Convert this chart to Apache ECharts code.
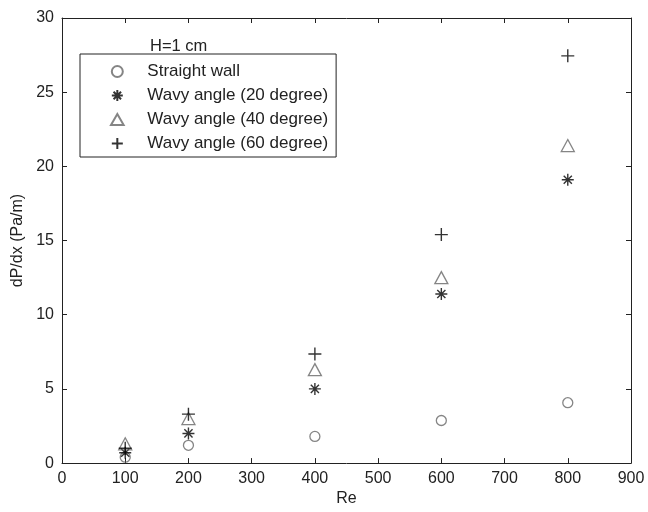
<!DOCTYPE html>
<html>
<head>
<meta charset="utf-8">
<script src="https://cdn.jsdelivr.net/npm/echarts@6/dist/echarts.min.js"></script>
<style>html,body{margin:0;padding:0;background:#fff;}#c{width:648px;height:512px;}</style>
</head>
<body>
<div id="c"></div>
<script>
var reValues = [100, 200, 400, 600, 800];
var straightWall = [0.4, 1.2, 1.8, 2.87, 4.07];
var wavy20 = [0.7, 2.0, 5.0, 11.4, 19.1];
var wavy40 = [1.3, 3.0, 6.3, 12.5, 21.4];
var wavy60 = [1.0, 3.3, 7.35, 15.4, 27.45];
var seriesNames = ['Straight wall', 'Wavy angle (20 degree)', 'Wavy angle (40 degree)', 'Wavy angle (60 degree)'];
var xTicks = [0,100,200,300,400,500,600,700,800,900];
var yTicks = [0,5,10,15,20,25,30];

function pairs(ys){ return reValues.map(function(x,i){ return [x, ys[i]]; }); }

var FONT = 'Liberation Sans, Arial, sans-serif';
var txt = '#222';
var starPath = 'path://M0,5L10,5M5,0L5,10M1.6,1.6L8.4,8.4M1.6,8.4L8.4,1.6';
var plusPath = 'path://M0,5L10,5M5,0L5,10';
var triPath = 'path://M5,0L10,8.7L0,8.7Z';

var chart = echarts.init(document.getElementById('c'), null, {renderer:'canvas'});
function axisBase(){
  return {
    axisLine:{show:true, onZero:false, lineStyle:{color:'#222', width:1}},
    axisTick:{show:true, inside:true, length:5, lineStyle:{color:'#222'}},
    splitLine:{show:false}
  };
}
var xb = axisBase(), xt = axisBase(), yl = axisBase(), yr = axisBase();
var option = {
  animation:false,
  backgroundColor:'#fff',
  grid:{left:62, right:17, top:18, bottom:45, containLabel:false},
  title:{text:'H=1 cm', left:145, top:33, textStyle:{fontFamily:FONT, fontSize:16.5, fontWeight:'normal', color:txt}},
  legend:{
    orient:'vertical', left:80, top:54,
    padding:[9,8,5,30],
    itemWidth:50, itemHeight:11, itemGap:7,
    borderColor:'#222', borderWidth:1, borderRadius:0,
    backgroundColor:'#fff',
    textStyle:{fontFamily:FONT, fontSize:17, color:txt},
    data:seriesNames
  },
  xAxis:[
    Object.assign(xb, {type:'value', position:'bottom', min:0, max:900, interval:100,
      name:'Re', nameLocation:'middle', nameGap:27,
      nameTextStyle:{fontFamily:FONT, fontSize:16, color:txt},
      axisLabel:{fontFamily:FONT, fontSize:16, color:txt, margin:7}}),
    Object.assign(xt, {type:'value', position:'top', min:0, max:900, interval:100, axisLabel:{show:false}})
  ],
  yAxis:[
    Object.assign(yl, {type:'value', position:'left', min:0, max:30, interval:5,
      name:'dP/dx (Pa/m)', nameLocation:'middle', nameGap:36,
      nameTextStyle:{fontFamily:FONT, fontSize:16, color:txt},
      axisLabel:{fontFamily:FONT, fontSize:16, color:txt, margin:8}}),
    Object.assign(yr, {type:'value', position:'right', min:0, max:30, interval:5, axisLabel:{show:false}})
  ],
  series:[
    {name:seriesNames[0], type:'scatter', data:pairs(straightWall), symbol:'circle', symbolSize:10,
     itemStyle:{color:'rgba(0,0,0,0)', borderColor:'#666', borderWidth:1.3}, emphasis:{disabled:true}},
    {name:seriesNames[1], type:'scatter', data:pairs(wavy20), symbol:starPath, symbolSize:12,
     itemStyle:{color:'rgba(0,0,0,0)', borderColor:'#000', borderWidth:1.4}, emphasis:{disabled:true}},
    {name:seriesNames[2], type:'scatter', data:pairs(wavy40), symbol:triPath, symbolSize:[13,12],
     itemStyle:{color:'rgba(0,0,0,0)', borderColor:'#666', borderWidth:1.3}, emphasis:{disabled:true}},
    {name:seriesNames[3], type:'scatter', data:pairs(wavy60), symbol:plusPath, symbolSize:13,
     itemStyle:{color:'rgba(0,0,0,0)', borderColor:'#000', borderWidth:1.4}, emphasis:{disabled:true}}
  ]
};
chart.setOption(option);
</script>
</body>
</html>
